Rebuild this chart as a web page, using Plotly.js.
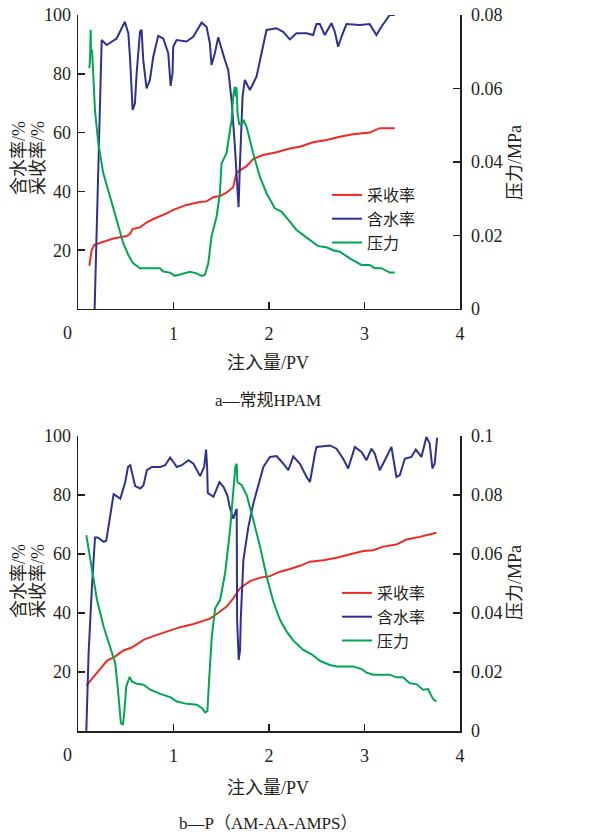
<!DOCTYPE html>
<html>
<head>
<meta charset="utf-8">
<script src="https://cdn.plot.ly/plotly-3.0.1.min.js"></script>
<style>html,body{margin:0;padding:0;background:#fff;}#chart{width:608px;height:834px;}</style>
</head>
<body>
<div id="chart"></div>
<script>
// ---- Panel a: 常规HPAM ----
const aRecX = [0.119,0.143,0.171,0.23,0.37,0.51,0.544,0.572,0.649,0.718,0.788,0.928,0.997,1.137,1.276,1.346,1.416,1.486,1.555,1.625,1.66,1.765,1.834,1.939,2.078,2.218,2.323,2.462,2.602,2.741,2.881,3.055,3.16,3.317];
const aRecY = [14.7,20,21.8,22.5,24,24.8,25.5,27.2,27.8,29.4,30.6,32.5,33.7,35.4,36.4,36.6,38,38.4,39.6,41.4,46.4,48.6,51,52.4,53.3,54.6,55.2,56.7,57.5,58.6,59.4,60,61.5,61.5];

const aWatX = [0.174,0.248,0.3,0.405,0.49,0.527,0.544,0.572,0.596,0.614,0.649,0.666,0.683,0.718,0.753,0.788,0.84,0.893,0.945,0.97,0.99,0.997,1.032,1.137,1.207,1.294,1.346,1.381,1.398,1.433,1.468,1.503,1.538,1.573,1.608,1.643,1.668,1.681,1.695,1.723,1.747,1.8,1.869,1.939,1.974,2.078,2.148,2.218,2.288,2.392,2.462,2.497,2.532,2.584,2.654,2.689,2.724,2.759,2.811,2.951,3.055,3.125,3.177,3.264,3.317];
const aWatY = [0,91.5,89.8,92,97.7,93.8,85.8,67.7,70,80.2,94.3,95,84.7,75,77.9,85.8,92.9,92,87,75.9,80.2,89.2,91.5,91,92.6,97.4,96,90.4,83,87,92.4,88.1,84.7,81.3,71.1,55.2,39.3,34.6,48.4,72.2,77.9,74.5,79,89.2,94.9,95.5,94.3,91.7,93.8,93.8,93.2,96.9,96.9,93.2,97.2,94.3,89.2,92.6,96.9,96.6,96.9,93.2,96,100,100];

const aPreX = [0.119,0.126,0.133,0.136,0.147,0.161,0.178,0.213,0.265,0.335,0.405,0.474,0.527,0.579,0.649,0.858,0.893,0.963,1.015,1.085,1.172,1.242,1.294,1.329,1.364,1.398,1.451,1.486,1.503,1.555,1.608,1.625,1.643,1.653,1.66,1.671,1.688,1.712,1.737,1.765,1.834,1.904,1.974,2.061,2.131,2.218,2.288,2.427,2.514,2.602,2.671,2.741,2.846,2.968,3.055,3.107,3.177,3.264,3.317];
const aPreY = [0.0655,0.068,0.076,0.0696,0.0705,0.064,0.054,0.045,0.0369,0.0306,0.0242,0.0179,0.0147,0.0124,0.0111,0.0111,0.0102,0.0099,0.009,0.0095,0.0101,0.0097,0.009,0.0093,0.0124,0.0197,0.0251,0.0315,0.0396,0.0424,0.0514,0.0578,0.0605,0.0578,0.0603,0.0532,0.0503,0.0503,0.0512,0.0496,0.0424,0.036,0.0315,0.0274,0.0265,0.0238,0.0215,0.0188,0.0171,0.0168,0.016,0.0156,0.0138,0.012,0.012,0.0111,0.0111,0.0099,0.0099];

// ---- Panel b: P(AM-AA-AMPS) ----
const bRecX = [0.087,0.199,0.303,0.39,0.477,0.564,0.686,0.826,0.93,1.07,1.209,1.348,1.383,1.488,1.557,1.627,1.697,1.801,1.906,2.01,2.115,2.22,2.324,2.429,2.568,2.707,2.847,2.986,3.09,3.195,3.334,3.439,3.578,3.648,3.753];
const bRecY = [15.4,19.6,23.8,25.3,27.3,28.3,30.9,32.6,33.7,35.2,36.3,37.9,38.1,40.5,42.2,45,48.4,50.8,52,52.5,54,54.9,56,57.4,57.9,58.7,59.9,61,61.3,62.5,63.2,64.9,65.8,66.4,67.2];

const bWatX = [0.087,0.111,0.146,0.178,0.206,0.268,0.296,0.338,0.373,0.443,0.495,0.523,0.547,0.564,0.599,0.652,0.686,0.721,0.774,0.861,0.913,0.965,1.035,1.087,1.157,1.209,1.279,1.321,1.341,1.352,1.359,1.418,1.481,1.523,1.564,1.592,1.627,1.655,1.662,1.666,1.683,1.697,1.704,1.732,1.784,1.836,1.941,2.01,2.08,2.15,2.202,2.254,2.324,2.394,2.429,2.481,2.498,2.638,2.707,2.777,2.829,2.899,2.969,3.021,3.073,3.108,3.16,3.213,3.282,3.334,3.369,3.422,3.491,3.537,3.596,3.648,3.683,3.711,3.735,3.76];
const bWatY = [0,26.4,48.9,65.6,65.6,64.1,64.5,72.6,80.3,78.8,84.4,89.5,90.1,87.8,83,82.2,83.3,88.4,89.5,89.5,90.1,92.7,89.5,90.1,91.8,90.6,86.4,89.5,95.4,89.5,80.7,79.4,84.4,82.8,79.9,75.4,72,74.9,75,37.7,24.1,27.5,37.7,58,69.2,77.1,89.5,92.9,93.2,90.6,88.4,93.1,90.6,86.1,84.4,94,96.3,96.8,95.7,92.3,89,96.3,94.6,91.8,95.7,94,88.4,91.8,96.3,86.1,86.7,92.3,92.9,95.4,92.9,99.7,97.4,89,90.6,99.4];

const bPreX = [0.087,0.146,0.199,0.268,0.338,0.39,0.415,0.436,0.449,0.47,0.484,0.505,0.54,0.564,0.617,0.686,0.756,0.861,0.965,1.035,1.139,1.244,1.296,1.331,1.355,1.373,1.401,1.436,1.488,1.54,1.592,1.627,1.648,1.662,1.669,1.714,1.767,1.836,1.906,1.976,2.045,2.115,2.185,2.254,2.359,2.446,2.533,2.638,2.707,2.882,2.969,3.021,3.091,3.265,3.334,3.404,3.474,3.544,3.613,3.666,3.718,3.753];
const bPreY = [0.0664,0.0546,0.0444,0.0354,0.0286,0.023,0.0151,0.0061,0.0027,0.0021,0.0061,0.0151,0.0183,0.0168,0.016,0.0157,0.014,0.0126,0.0115,0.01,0.0092,0.0089,0.0078,0.0063,0.0067,0.0174,0.032,0.0416,0.0444,0.0534,0.0681,0.0816,0.0895,0.0906,0.0844,0.0833,0.0799,0.0715,0.0625,0.0523,0.0439,0.0377,0.0337,0.0307,0.0275,0.026,0.0238,0.0224,0.0219,0.0219,0.021,0.0198,0.0191,0.0191,0.0182,0.0182,0.0162,0.0159,0.014,0.0142,0.0108,0.01];

const seriesNames = ['采收率','含水率','压力'];
const xTickVals = [1,2,3,4];
const leftTickVals = [20,40,60,80,100];
const aRightTicks = [0,0.02,0.04,0.06,0.08];
const aRightText = ['0','0.02','0.04','0.06','0.08'];
const bRightTicks = [0,0.02,0.04,0.06,0.08,0.1];
const bRightText = ['0','0.02','0.04','0.06','0.08','0.1'];
const leftTitles = ['含水率/%','采收率/%'];
const rightTitle = '压力/MPa';
const xTitle = '注入量/PV';
const panelTitles = ['a—常规HPAM','b—P（AM-AA-AMPS）'];

const RED='#ee2a24', BLUE='#2e3192', GREEN='#00a650', AX='#231f20';
const FONT = '"Liberation Serif","Times New Roman","Noto Sans CJK SC",serif';
const CJK = '"Liberation Serif","Noto Sans CJK SC",serif';

function ln(c){return {color:c,width:2};}
const traces = [
  {x:aRecX,y:aRecY,xaxis:'x',yaxis:'y',name:seriesNames[0],mode:'lines',line:ln(RED),legend:'legend'},
  {x:aWatX,y:aWatY,xaxis:'x',yaxis:'y',name:seriesNames[1],mode:'lines',line:ln(BLUE),legend:'legend'},
  {x:aPreX,y:aPreY,xaxis:'x',yaxis:'y2',name:seriesNames[2],mode:'lines',line:ln(GREEN),legend:'legend'},
  {x:bRecX,y:bRecY,xaxis:'x2',yaxis:'y3',name:seriesNames[0],mode:'lines',line:ln(RED),legend:'legend2'},
  {x:bWatX,y:bWatY,xaxis:'x2',yaxis:'y3',name:seriesNames[1],mode:'lines',line:ln(BLUE),legend:'legend2'},
  {x:bPreX,y:bPreY,xaxis:'x2',yaxis:'y4',name:seriesNames[2],mode:'lines',line:ln(GREEN),legend:'legend2'}
];

const tf = {family:FONT,size:18,color:AX};
function xax(anchor){return {domain:[0,1],range:[0,4],anchor:anchor,tickvals:xTickVals,ticks:'inside',ticklen:7,tickwidth:1.5,tickcolor:AX,showline:true,linecolor:AX,linewidth:1.5,showgrid:false,zeroline:false,tickfont:tf,ticklabelstandoff:8,fixedrange:true};}
function lyax(dom,anchor){return {domain:dom,range:[0,100],anchor:anchor,tickvals:leftTickVals,ticks:'inside',ticklen:7,tickwidth:1.5,tickcolor:AX,showline:true,linecolor:AX,linewidth:1.5,showgrid:false,zeroline:false,tickfont:tf,ticklabelstandoff:2};}
function ryax(over,anchor,rng,tv,tt){return {overlaying:over,side:'right',anchor:anchor,range:rng,tickvals:tv,ticktext:tt,ticks:'inside',ticklen:7,tickwidth:1.5,tickcolor:AX,showline:true,linecolor:AX,linewidth:1.5,showgrid:false,zeroline:false,tickfont:tf,ticklabelstandoff:6};}

const topDom=[0.5894,1], botDom=[0,0.412];
const legFont={family:CJK,size:16,color:AX};
const ann = (x,y,text,extra)=>Object.assign({xref:'paper',yref:'paper',x:x,y:y,xanchor:'center',yanchor:'middle',text:text,showarrow:false,font:{family:CJK,size:18,color:AX}},extra||{});
// paper conversions: x px -> (px-78)/382 ; y px -> (731-py)/716
const px=(p)=>(p-78)/382, py=(p)=>(731-p)/716;

const layout = {
  width:608,height:834,
  margin:{l:78,r:148,t:15,b:103},
  paper_bgcolor:'#fff',plot_bgcolor:'rgba(0,0,0,0)',
  showlegend:true,
  xaxis:xax('y'),
  yaxis:lyax(topDom,'x'),
  yaxis2:ryax('y','x',[0,0.08],aRightTicks,aRightText),
  xaxis2:xax('y3'),
  yaxis3:lyax(botDom,'x2'),
  yaxis4:ryax('y3','x2',[0,0.1],bRightTicks,bRightText),
  legend:{x:px(327),y:py(178),xanchor:'left',yanchor:'top',bgcolor:'rgba(0,0,0,0)',font:legFont,tracegroupgap:0},
  legend2:{x:px(337),y:py(576),xanchor:'left',yanchor:'top',bgcolor:'rgba(0,0,0,0)',font:legFont,tracegroupgap:0},
  annotations:[
    ann(px(67),py(333),'0',{font:tf}),
    ann(px(67),py(755),'0',{font:tf}),
    ann(px(19),py(158),leftTitles[0],{textangle:-90}),
    ann(px(38),py(158),leftTitles[1],{textangle:-90}),
    ann(px(515),py(163),rightTitle,{textangle:-90}),
    ann(px(19),py(581),leftTitles[0],{textangle:-90}),
    ann(px(38),py(581),leftTitles[1],{textangle:-90}),
    ann(px(515),py(583),rightTitle,{textangle:-90}),
    ann(px(268),py(363),xTitle),
    ann(px(268),py(788),xTitle),
    ann(px(268),py(400),panelTitles[0],{font:{family:CJK,size:17,color:AX}}),
    ann(px(268),py(823),panelTitles[1],{font:{family:CJK,size:17,color:AX}})
  ]
};

Plotly.newPlot('chart',traces,layout,{displayModeBar:false,staticPlot:true});
</script>
</body>
</html>
